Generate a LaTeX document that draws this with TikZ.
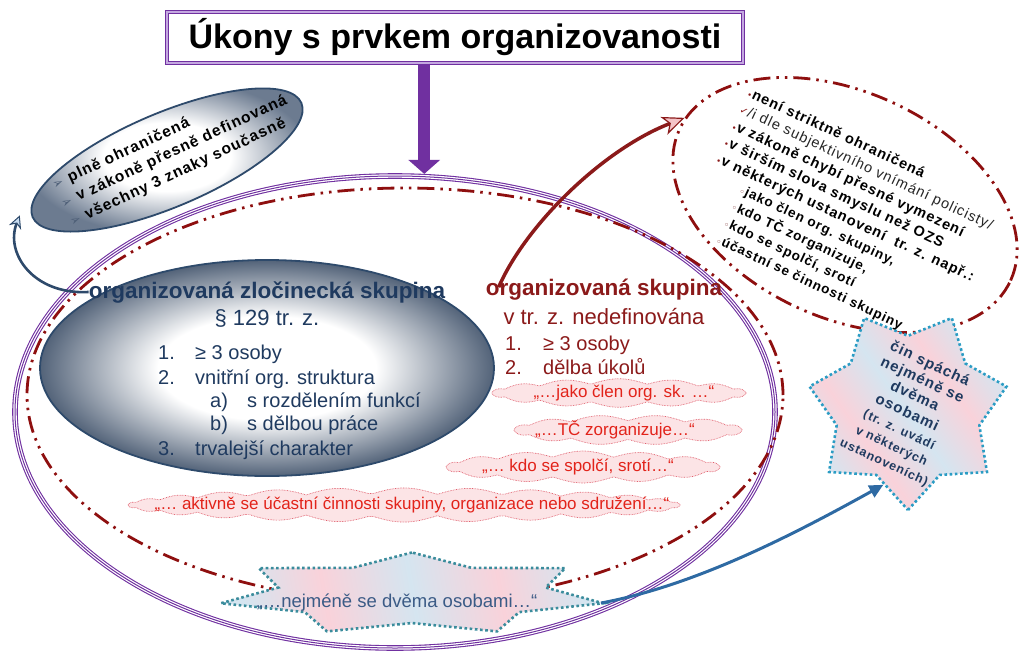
\documentclass[tikz,border=0pt]{standalone}
\usepackage{tikz}
\usepackage{fontspec}
\setmainfont{Liberation Sans}
\newfontfamily\dejavu{DejaVu Sans}
\newfontfamily\sparse[LetterSpace=7]{Liberation Sans}
\usetikzlibrary{shapes.geometric,arrows.meta}
\definecolor{purp}{HTML}{7030A0}
\definecolor{lavender}{HTML}{C4A8E0}
\definecolor{dred}{HTML}{8B1A1A}
\definecolor{dashred}{HTML}{8E0F0F}
\definecolor{navy}{HTML}{1F3A5F}
\definecolor{navyline}{HTML}{2E4A6B}
\definecolor{slateG}{HTML}{536379}
\definecolor{slateS}{HTML}{6C7B90}
\definecolor{pinkA}{HTML}{F9D2DA}
\definecolor{blueA}{HTML}{D5E5F0}
\definecolor{pinkR}{HTML}{F4C4C8}
\definecolor{cloudfill}{HTML}{FCE4E6}
\definecolor{cloudline}{HTML}{E0606E}
\definecolor{redtext}{HTML}{E2231A}
\definecolor{steel}{HTML}{2E6AA3}
\definecolor{tealA}{HTML}{2A9CC4}
\definecolor{tealB}{HTML}{3A8C9C}
\definecolor{lightblue}{HTML}{C9DDF2}
\definecolor{bulletgray}{HTML}{4F6078}
\definecolor{bstartext}{HTML}{3B5B86}
\pgfdeclareradialshading{grayball}{\pgfpoint{0bp}{0bp}}{color(0bp)=(white); color(12bp)=(white); color(25bp)=(slateG); color(50bp)=(slateG)}
\pgfdeclareradialshading{grayballs}{\pgfpoint{0bp}{0bp}}{color(0bp)=(white); color(11bp)=(white); color(25bp)=(slateS); color(50bp)=(slateS)}
\pgfdeclarehorizontalshading{pinkblue}{100bp}{color(0bp)=(blueA); color(25bp)=(blueA); color(37bp)=(pinkA); color(50bp)=(blueA); color(63bp)=(pinkA); color(75bp)=(blueA); color(100bp)=(blueA)}
\newcommand\myb{{\dejavu\color{dred}\fontsize{7}{7}\selectfont •}\kern0.5pt}
\newcommand\mysb{{\dejavu\color{dred!60!gray}\fontsize{8}{8}\selectfont ◦}\kern0.5pt}
\newcommand\arrb{{\dejavu\color{bulletgray}\fontsize{13}{13}\selectfont ➢}\hspace{6pt}}
% cloud outline: centre x, centre y, half width, half height, bumps
\newcommand\cloudpath[5]{%
  \draw[cloudstyle] plot[domain=0:360, samples=300, variable=\t]
    ({#1+#3*cos(\t)}, {#2-#4*sin(\t)*(0.72+0.42*abs(sin(#5*\t)))}) -- cycle;}
\begin{document}
\begin{tikzpicture}[x=1pt,y=-1pt,
 dashdot/.style={draw=dashred, line width=2.8pt, dash pattern=on 17pt off 6pt on 2.5pt off 6pt on 2.5pt off 6pt},
 cloudstyle/.style={draw=cloudline, line width=0.7pt, dash pattern=on 0.7pt off 0.9pt, fill=cloudfill},
 cloudtxt/.style={text=redtext, font=\fontsize{17}{19}\selectfont, inner sep=0pt},
 navytxt/.style={text=navy, inner sep=0pt},
 dredtxt/.style={text=dred, inner sep=0pt},
 stardots/.style={line width=2.6pt, dash pattern=on 2.6pt off 2.6pt},
]
\useasboundingbox (0,0) rectangle (1023,662);

% ellipses
\node[ellipse, minimum width=454pt, minimum height=216pt, draw=navyline, line width=1.8pt, shade, shading=grayball] (gell) at (267,368) {};
\node[ellipse, minimum width=760pt, minimum height=472pt, draw=purp, line width=5.6pt, postaction={draw=white, line width=3.4pt}, postaction={draw=purp, line width=1pt}] (big) at (395,412) {};
\node[ellipse, minimum width=756pt, minimum height=414pt, dashdot] (dell) at (405,395) {};
\node[ellipse, minimum width=292pt, minimum height=94pt, rotate=23, draw=navyline, line width=1.8pt, shade, shading=grayballs] (sell) at (167,160) {};
\node[ellipse, minimum width=364pt, minimum height=226pt, rotate=-24.5, dashdot] (rell) at (845,205) {};

% clouds
\cloudpath{619}{393}{127}{12.5}{7}
\node[cloudtxt] (t1) at (624,393) {„…jako člen org. sk. …“};
\cloudpath{628}{430}{114}{13}{6}
\node[cloudtxt] (t2) at (615,430) {„…TČ zorganizuje…“};
\cloudpath{583}{467}{137}{14}{7}
\node[cloudtxt] (t3) at (578,467) {„… kdo se spolčí, srotí…“};
\cloudpath{404}{505}{276}{15}{13}
\node[cloudtxt] (t4) at (412,505) {„… aktivně se účastní činnosti skupiny, organizace nebo sdružení…“};

% stars
\draw[draw=tealB, stardots, shade, shading=pinkblue, shading angle=10]
  plot[samples at={0,...,13}, variable=\k]
  ({412+196*ifthenelse(mod(\k,2)==0,1,0.7)*cos(90+\k*360/14)}, {594-41.5*ifthenelse(mod(\k,2)==0,1,0.7)*sin(90+\k*360/14)}) -- cycle;
\coordinate (bE) at (601,603);
\node[text=bstartext, font=\fontsize{18.5}{20}\selectfont, inner sep=0pt] (bst) at (397,603) {„…nejméně se dvěma osobami…“};

\node[star, star points=7, star point ratio=1.38, minimum size=202pt, shape border rotate=180, draw=tealA, stardots, shade, shading=pinkblue, shading angle=35, inner sep=0pt] (rstar) at (908,409) {};
\node[rotate=-25, align=center, text=navy, inner sep=0pt, font=\sparse\bfseries\fontsize{15}{18}\selectfont] (rstxt) at (907,413)
 {čin spáchá\\nejméně se\\dvěma\\osobami\\{\fontsize{12.5}{16.5}\selectfont (tr. z. uvádí}\\{\fontsize{12.5}{16.5}\selectfont v některých}\\{\fontsize{12.5}{16.5}\selectfont ustanoveních)}};

% title
\node[draw=purp, line width=1.2pt, double=lavender, double distance=2pt, fill=white, minimum width=576pt, minimum height=51pt, inner sep=0pt, font=\bfseries\fontsize{34}{40}\selectfont] (title) at (455,37.5) {Úkony s prvkem organizovanosti};

% small ellipse text
\node[rotate=25, align=left, inner sep=0pt, font=\sparse\bfseries\fontsize{15.5}{20.5}\selectfont] (stxt) at (174,152)
 {\arrb plně ohraničená\\\arrb v zákoně přesně definovaná\\\arrb všechny 3 znaky současně};

% right ellipse text
\node[rotate=-25, anchor=north west, align=left, inner sep=0pt, font=\sparse\bfseries\fontsize{14.5}{18.3}\selectfont] (rtxt) at (751,86)
 {\myb není striktně ohraničená\\
  {\dejavu\color{dred}\fontsize{10}{10}\selectfont ✓}{\mdseries\color{black!85}/i dle subjektivního vnímání policisty/}\\
  \myb v zákoně chybí přesné vymezení\\
  \myb v širším slova smyslu než OZS\\
  \myb v některých ustanovení\ \ tr. z. např.:\\
  \hspace{34pt}{\fontsize{13.5}{18.3}\selectfont\mysb jako člen org. skupiny,}\\
  \hspace{34pt}{\fontsize{13.5}{18.3}\selectfont\mysb kdo TČ zorganizuje,}\\
  \hspace{34pt}{\fontsize{13.5}{18.3}\selectfont\mysb kdo se spolčí, srotí}\\
  \hspace{34pt}{\fontsize{13.5}{18.3}\selectfont\mysb účastní se činnosti skupiny}};

% left (gray) ellipse texts
\node[navytxt, font=\bfseries\fontsize{22.5}{26}\selectfont] (oz) at (267,292) {organizovaná zločinecká skupina};
\node[navytxt, font=\fontsize{22}{26}\selectfont] (par) at (267,318) {§ 129 tr. z.};
\node[navytxt, anchor=base west, font=\fontsize{20}{24}\selectfont] (l1) at (158,359) {\makebox[37pt][l]{1.}≥ 3 osoby};
\node[navytxt, anchor=base west, font=\fontsize{20}{24}\selectfont] (l2) at (158,384) {\makebox[37pt][l]{2.}vnitřní org. struktura};
\node[navytxt, anchor=base west, font=\fontsize{20}{24}\selectfont] (l2a) at (210,407) {\makebox[37pt][l]{a)}s rozdělením funkcí};
\node[navytxt, anchor=base west, font=\fontsize{20}{24}\selectfont] (l2b) at (210,430) {\makebox[37pt][l]{b)}s dělbou práce};
\node[navytxt, anchor=base west, font=\fontsize{20}{24}\selectfont] (l3) at (158,455) {\makebox[37pt][l]{3.}trvalejší charakter};

% right (red) texts
\node[dredtxt, font=\bfseries\fontsize{22.5}{26}\selectfont] (osk) at (604,290) {organizovaná skupina};
\node[dredtxt, font=\fontsize{22}{26}\selectfont] (nedef) at (604,317) {v tr. z. nedefinována};
\node[dredtxt, anchor=base west, font=\fontsize{20}{24}\selectfont] (r1) at (505,350) {\makebox[38pt][l]{1.}≥ 3 osoby};
\node[dredtxt, anchor=base west, font=\fontsize{20}{24}\selectfont] (r2) at (505,374) {\makebox[38pt][l]{2.}dělba úkolů};

% connectors
\draw[purp, line width=12pt, -{Triangle[length=14pt,width=31pt]}] (title.south -| big.83) -- (big.83);
\draw[dred, line width=3.5pt, -{Stealth[length=22pt, width=19pt, inset=6pt, color=dred, fill=pinkR, line width=1.2pt]}]
  ([xshift=13pt, yshift=-8pt]osk.north west) .. controls +(27,-62) and +(-82,32) .. (rell.176);
\draw[steel, line width=3pt, -{Triangle[length=14pt, width=13pt]}]
  (bE) .. controls +(97,-18) and +(-85,47) .. (rstar.252);
\draw[navyline, line width=2.6pt, -{Stealth[length=13pt, width=13pt, color=navyline, fill=lightblue, line width=1pt]}]
  (oz.west) .. controls +(-55,3) and +(-15,38) .. ([xshift=-12pt,yshift=2pt]sell.west);
\end{tikzpicture}
\end{document}
